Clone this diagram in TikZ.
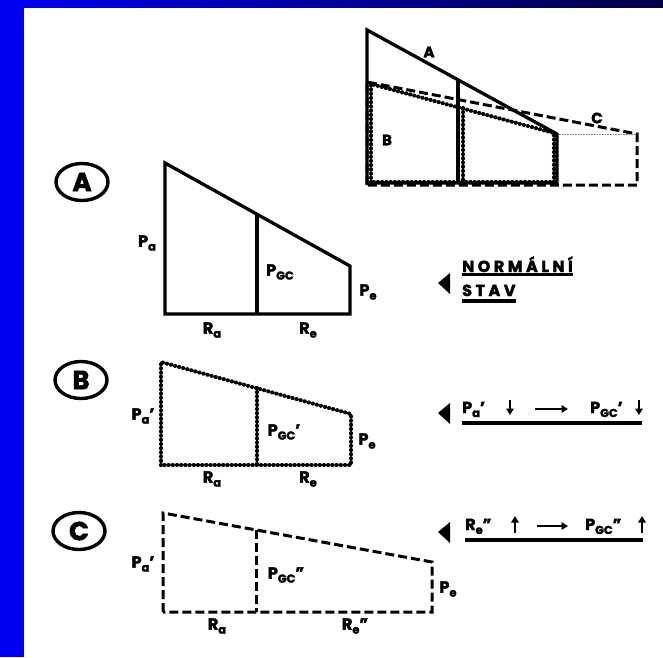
\documentclass[tikz,border=0pt]{standalone}
\usepackage{fontspec}
\setmainfont{Poppins}[BoldFont={* Bold}, BoldFeatures={FakeBold=2.2}]
\newfontfamily\spaced{Poppins}[LetterSpace=22, BoldFont={* Bold}, BoldFeatures={FakeBold=2.2}]
\usetikzlibrary{shapes.geometric,arrows.meta,decorations.markings}
\definecolor{bbar}{RGB}{0,0,240}
\definecolor{navy}{RGB}{0,0,70}
\newcommand\PS[2]{#1\raisebox{-4pt}{\fontsize{11.5}{11.5}\selectfont #2}}
\tikzset{
  solidl/.style={line width=3.3pt, line join=miter},
  dotl/.style={line width=1.2pt, line join=round,
    decoration={markings, mark=between positions 0 and 1 step 4.2pt with {\fill (0,0) circle (2.1pt);}},
    postaction={decorate}},
  dashl/.style={line width=3pt, dash pattern=on 9pt off 4pt},
  lab/.style={font=\bfseries\fontsize{16}{16}\selectfont, inner sep=0pt},
  smalllab/.style={font=\bfseries\fontsize{15}{15}\selectfont, inner sep=0pt},
  circ/.style={ellipse, draw, line width=3.4pt, minimum width=52pt, minimum height=37pt, inner sep=0pt, font=\bfseries\fontsize{26}{26}\selectfont},
  uline/.style={line width=3.6pt},
  tarrow/.style={line width=2.4pt, -{Triangle[length=6.5pt,width=7.5pt]}},
  tri/.style={fill=black}
}
\begin{document}
\begin{tikzpicture}[x=1pt,y=-1pt]
\useasboundingbox (0,0) rectangle (663,657);
\fill[white] (0,0) rectangle (663,657);
\shade[left color=bbar, right color=navy] (0,0) rectangle (663,7);
\fill[bbar] (0,0) rectangle (24,657);

% ---------- top-right combined diagram ----------
\coordinate (tc1) at (367,185); \coordinate (tc2) at (367,82);
\coordinate (tc3) at (637,134); \coordinate (tc4) at (637,185);
\draw[dashl] (tc1) -- (tc2) -- (tc3) -- (tc4) -- cycle;
\coordinate (ta4) at (557,134);
\draw[densely dotted, line width=0.6pt, gray] (ta4) -- (tc3);
\coordinate (tb1) at (371,182); \coordinate (tb2) at (371,84);
\coordinate (tb3) at (554,133); \coordinate (tb4) at (554,182);
\coordinate (tbm1) at (463,108); \coordinate (tbm2) at (463,182);
\draw[dotl] (tb1) -- (tb2) -- (tb3) -- (tb4) -- cycle;
\draw[dotl] (tbm1) -- (tbm2);
\coordinate (ta1) at (367,183); \coordinate (ta2) at (367,30);
\coordinate (ta5) at (557,183);
\coordinate (tam1) at (458,80); \coordinate (tam2) at (458,183);
\draw[solidl] (ta1) -- (ta2) -- (ta4) -- (ta5) -- cycle;
\draw[solidl] (tam1) -- (tam2);
\node[smalllab] (tlA) at (429,52) {A};
\node[smalllab] (tlB) at (387,140) {B};
\node[smalllab] (tlC) at (597,118) {C};

% ---------- A ----------
\node[circ] (cA) at (82,182) {A};
\coordinate (a1) at (165,314); \coordinate (a2) at (165,163);
\coordinate (a3) at (350,266); \coordinate (a4) at (350,314);
\coordinate (am1) at (257,214); \coordinate (am2) at (257,314);
\draw[solidl] (a1) -- (a2) -- (a3) -- (a4) -- cycle;
\draw[solidl] (am1) -- (am2);
\node[lab] (aPa) at (147,243) {\PS{P}{a}};
\node[lab] (aPgc) at (280,272) {\PS{P}{GC}};
\node[lab] (aPe) at (368,292) {\PS{P}{e}};
\node[lab] (aRa) at (212,330) {\PS{R}{a}};
\node[lab] (aRe) at (308,330) {\PS{R}{e}};

\fill[tri] (438,283) -- (450,273) -- (450,294) -- cycle;
\node[lab, anchor=base west] (nA1) at (462,272) {\spaced NORMÁLNÍ};
\node[lab, anchor=base west] (nA2) at (462,296) {\spaced STAV};
\draw[uline] ([yshift=-2.5pt]nA1.base west) -- ([yshift=-2.5pt]nA1.base east);
\draw[uline] ([yshift=-5pt]nA2.base west) -- ([yshift=-5pt]nA2.base east);

% ---------- B ----------
\node[circ] (cB) at (81,380) {B};
\coordinate (b1) at (161,465); \coordinate (b2) at (161,362);
\coordinate (b3) at (351,414); \coordinate (b4) at (351,465);
\coordinate (bm1) at (257,388); \coordinate (bm2) at (257,465);
\draw[dotl] (b1) -- (b2) -- (b3) -- (b4) -- cycle;
\draw[dotl] (bm1) -- (bm2);
\node[lab] (bPa) at (143,416) {\PS{P}{a}'};
\node[lab] (bPgc) at (284,432) {\PS{P}{GC}'};
\node[lab] (bPe) at (367,441) {\PS{P}{e}};
\node[lab] (bRa) at (212,479) {\PS{R}{a}};
\node[lab] (bRe) at (308,479) {\PS{R}{e}};

\fill[tri] (438,413) -- (450,403) -- (450,424) -- cycle;
\node[lab, anchor=base west] (rB1) at (462,413) {\PS{P}{a}'};
\coordinate (bd1) at (510,400); \coordinate (bd2) at (510,415);
\draw[tarrow] (bd1) -- (bd2);
\coordinate (bl1) at (535,409); \coordinate (bl2) at (568,409);
\draw[tarrow] (bl1) -- (bl2);
\node[lab, anchor=base west] (rB2) at (590,413) {\PS{P}{GC}'};
\coordinate (bd3) at (639,400); \coordinate (bd4) at (639,415);
\draw[tarrow] (bd3) -- (bd4);
\coordinate (bu1) at (462,423); \coordinate (bu2) at (642,423);
\draw[uline] (bu1) -- (bu2);

% ---------- C ----------
\node[circ] (cC) at (79,531) {C};
\coordinate (c1) at (163,612); \coordinate (c2) at (163,513);
\coordinate (c3) at (432,562); \coordinate (c4) at (432,612);
\coordinate (cm1) at (256,530); \coordinate (cm2) at (256,612);
\draw[dashl] (c1) -- (c2) -- (c3) -- (c4) -- cycle;
\draw[dashl] (cm1) -- (cm2);
\node[lab] (cPa) at (143,564) {\PS{P}{a}'};
\node[lab] (cPgc) at (286,575) {\PS{P}{GC}''};
\node[lab] (cPe) at (448,589) {\PS{P}{e}};
\node[lab] (cRa) at (217,626) {\PS{R}{a}};
\node[lab] (cRe) at (355,626) {\PS{R}{e}''};

\fill[tri] (438,532) -- (450,522) -- (450,543) -- cycle;
\node[lab, anchor=base west] (rC1) at (465,530) {\PS{R}{e}''};
\coordinate (cu1) at (515,533); \coordinate (cu2) at (515,516);
\draw[tarrow] (cu1) -- (cu2);
\coordinate (cl1) at (537,526); \coordinate (cl2) at (568,526);
\draw[tarrow] (cl1) -- (cl2);
\node[lab, anchor=base west] (rC2) at (585,530) {\PS{P}{GC}''};
\coordinate (cu3) at (642,533); \coordinate (cu4) at (642,516);
\draw[tarrow] (cu3) -- (cu4);
\coordinate (cul1) at (465,540); \coordinate (cul2) at (643,540);
\draw[uline] (cul1) -- (cul2);
\end{tikzpicture}
\end{document}
